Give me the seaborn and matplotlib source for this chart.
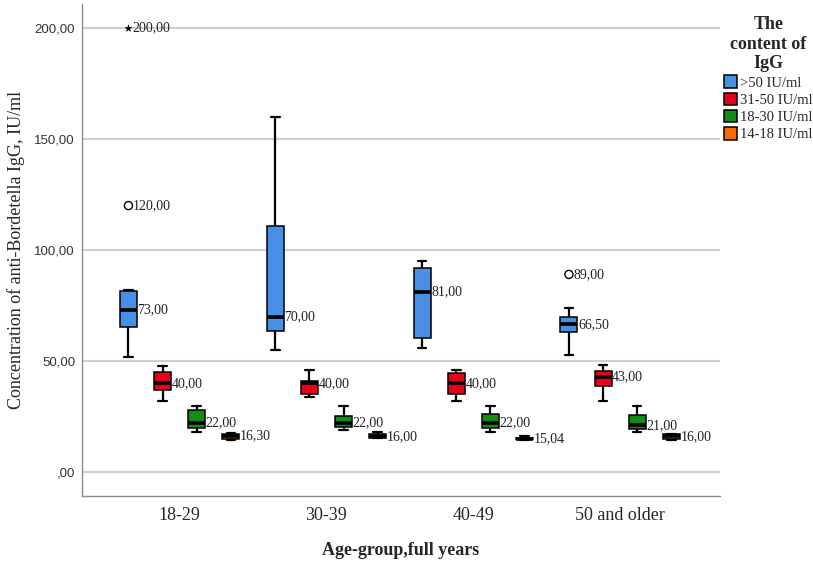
import numpy as np
import pandas as pd
import matplotlib
matplotlib.use("Agg")
import matplotlib.pyplot as plt
import seaborn as sns
from matplotlib.ticker import FuncFormatter, FixedLocator

# categories
age_groups = ["18-29", "30-39", "40-49", "50 and older"]
igg_levels = [">50 IU/ml", "31-50 IU/ml", "18-30 IU/ml", "14-18 IU/ml"]
igg_colors = ["#4a8fe6", "#e6001c", "#148a17", "#ff6a00"]

# box statistics (rows = IgG level, columns = age group)
whisker_low = [[52.0, 55.0, 56.0, 52.7],
               [32.0, 34.0, 32.0, 32.0],
               [18.0, 19.0, 18.2, 18.2],
               [14.5, 15.2, 14.5, 14.5]]
lower_quartile = [[65.3, 63.5, 60.5, 63.2],
                  [37.0, 35.0, 35.0, 38.7],
                  [19.8, 20.4, 20.0, 19.2],
                  [14.8, 15.3, 14.7, 15.0]]
medians = [[73.0, 70.0, 81.0, 66.5],
           [40.0, 40.0, 40.0, 43.0],
           [22.0, 22.0, 22.0, 21.0],
           [16.3, 16.0, 15.04, 16.0]]
upper_quartile = [[81.5, 110.8, 92.0, 70.0],
                  [45.0, 41.0, 44.7, 45.5],
                  [28.0, 25.2, 26.0, 25.7],
                  [17.0, 17.0, 15.5, 17.0]]
whisker_high = [[82.0, 160.0, 95.0, 74.0],
                [47.7, 46.0, 46.0, 48.0],
                [29.7, 29.7, 29.9, 29.9],
                [17.7, 18.0, 16.0, 17.3]]

# outliers (circle) and extreme values (star)
outlier_age = ["18-29", "18-29", "50 and older"]
outlier_level = [">50 IU/ml", ">50 IU/ml", ">50 IU/ml"]
outlier_value = [120.0, 200.0, 89.0]
outlier_extreme = [False, True, False]

y_ticks = [0, 50, 100, 150, 200]

# five values per box -> quartiles fall exactly on the read values
rows = []
for i, lvl in enumerate(igg_levels):
    for j, age in enumerate(age_groups):
        for v in (whisker_low[i][j], lower_quartile[i][j], medians[i][j],
                  upper_quartile[i][j], whisker_high[i][j]):
            rows.append({"age": age, "igg": lvl, "value": v})
df = pd.DataFrame(rows)

sns.set_style("white")
plt.rcParams["font.family"] = ["Liberation Serif", "DejaVu Serif"]

W, H = 813, 564
fig = plt.figure(figsize=(W / 100, H / 100), dpi=100)
ax = fig.add_axes([82 / W, 1 - 496 / H, (720 - 82) / W, (496 - 4) / H])

sns.boxplot(data=df, x="age", y="value", hue="igg", order=age_groups,
            hue_order=igg_levels, palette=igg_colors, saturation=1,
            width=0.93, gap=0.5, whis=np.inf, linecolor="black", linewidth=1.1,
            medianprops={"linewidth": 2.6},
            whiskerprops={"linewidth": 1.6}, capprops={"linewidth": 1.6},
            ax=ax)


def spss_fmt(v, pos=None):
    s = f"{v:.2f}".replace(".", ",")
    return s[1:] if s.startswith("0,") else s


# box centres / right edges taken from the drawn artists
centers = {}
for i, cont in enumerate(ax.containers):
    for j, med_line in enumerate(cont.medians):
        xs = med_line.get_xdata()
        centers[(igg_levels[i], age_groups[j])] = (np.mean(xs), np.max(xs))
        ax.text(np.max(xs) + 0.004, medians[i][j], spss_fmt(medians[i][j]),
                ha="left", va="center", fontsize=10, color="#222222")

for age, lvl, val, ext in zip(outlier_age, outlier_level, outlier_value, outlier_extreme):
    cx, _ = centers[(lvl, age)]
    if ext:
        ax.scatter([cx], [val], marker="*", s=38, color="black", zorder=5, linewidths=0)
    else:
        ax.scatter([cx], [val], marker="o", s=34, facecolors="none",
                   edgecolors="black", linewidths=1.0, zorder=5)
    ax.text(cx + 0.028, val, spss_fmt(val), ha="left", va="center",
            fontsize=10, color="#222222")

ax.set_xlim(-0.665, 3.68)
ax.set_ylim(-10.8, 210.8)
ax.yaxis.set_major_locator(FixedLocator(y_ticks))
ax.yaxis.set_major_formatter(FuncFormatter(spss_fmt))
ax.yaxis.grid(True, color="#cfcfcf", linewidth=1.5)
ax.xaxis.grid(False)
ax.set_axisbelow(True)
ax.tick_params(axis="both", length=0)
ax.tick_params(axis="y", pad=5)
ax.tick_params(axis="x", pad=8, labelsize=13)
for lab in ax.get_yticklabels():
    lab.set_fontfamily("Liberation Sans")
    lab.set_fontsize(9.5)
    lab.set_color("#333333")

for side in ("top", "right"):
    ax.spines[side].set_visible(False)
for side in ("left", "bottom"):
    ax.spines[side].set_color("#8c8c8c")
    ax.spines[side].set_linewidth(1.0)

ax.set_xlabel("Age-group,full years", fontsize=13, fontweight="bold", labelpad=13)
ax.set_ylabel("Concentration of anti-Bordetella IgG, IU/ml", fontsize=13, labelpad=7)

sns.move_legend(ax, "upper left", bbox_to_anchor=(714 / W, 1 - 6 / H),
                bbox_transform=fig.transFigure, frameon=False,
                title="The\ncontent of\nIgG",
                title_fontproperties={"weight": "bold", "size": 13,
                                      "family": "Liberation Serif"},
                prop={"family": "Liberation Serif", "size": 10.5},
                handlelength=0.9, handleheight=0.95, handletextpad=0.2,
                labelspacing=0.2, borderpad=0.2)
ax.get_legend().get_title().set_multialignment("center")

fig.savefig("out.png", dpi=100)
